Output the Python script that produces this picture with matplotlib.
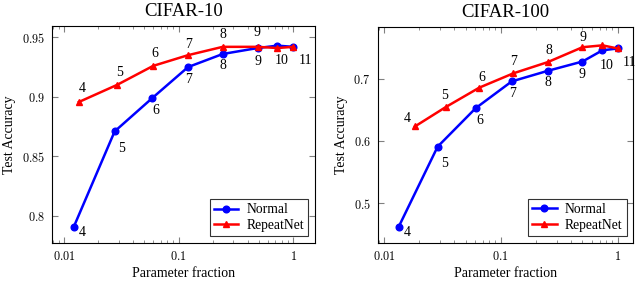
import matplotlib

matplotlib.use("Agg")

import matplotlib.pyplot as plt
from matplotlib.ticker import NullFormatter

# depth of each network (labels on the points)
depths = [4, 5, 6, 7, 8, 9, 10, 11]

# CIFAR-10
c10_normal_x = [0.0122, 0.0277, 0.059, 0.121, 0.243, 0.49, 0.73, 1.0]
c10_normal_y = [0.791, 0.871, 0.899, 0.925, 0.936, 0.941, 0.943, 0.942]
c10_repeat_x = [0.0135, 0.029, 0.06, 0.121, 0.243, 0.49, 0.73, 1.0]
c10_repeat_y = [0.8957, 0.910, 0.926, 0.935, 0.942, 0.942, 0.941, 0.942]

# CIFAR-100
c100_normal_x = [0.0134, 0.0288, 0.061, 0.124, 0.252, 0.5, 0.74, 1.0]
c100_normal_y = [0.4624, 0.591, 0.653, 0.696, 0.713, 0.728, 0.746, 0.749]
c100_repeat_x = [0.0184, 0.034, 0.0655, 0.128, 0.252, 0.5, 0.74, 1.0]
c100_repeat_y = [0.6235, 0.655, 0.686, 0.709, 0.727, 0.751, 0.754, 0.749]

c10_yticks = [0.8, 0.85, 0.9, 0.95]
c10_yticklabels = ["0.8", "0.85", "0.9", "0.95"]
c100_yticks = [0.5, 0.6, 0.7]
c100_yticklabels = ["0.5", "0.6", "0.7"]
xticks = [0.01, 0.1, 1]
xticklabels = ["0.01", "0.1", "1"]

plt.rcParams["font.family"] = ["Liberation Serif", "DejaVu Serif"]
plt.rcParams["mathtext.fontset"] = "cm"

# label offsets in pixels (pgfplots-like nodes near coords)
normal_off = [(8, -6), (7, -17), (4, -12), (1, -12), (0, -12), (0, -13), (4, -15), (12, -14)]
repeat_off_c10 = [(3, 13), (3, 12), (2, 12), (1, 11), (0, 12), (-1, 14)]
repeat_off_c100 = [(-8, 8), (-1, 11), (2, 10), (0, 12), (1, 12), (1, 10)]


def tex(labels):
    return ["$%s$" % s for s in labels]


def panel(ax, title, nx, ny, rx, ry, yticks, ylabels, xlim, ylim, roff):
    ax.plot(nx, ny, color="blue", lw=1.8, marker="o", ms=4.8, label="Normal", zorder=3)
    ax.plot(rx, ry, color="red", lw=1.8, marker="^", ms=5.0, label="RepeatNet", zorder=3)
    for i, d in enumerate(depths):
        ax.annotate(str(d), (nx[i], ny[i]), xytext=normal_off[i],
                    textcoords="offset pixels", ha="center", va="center", fontsize=10)
    for i, off in enumerate(roff):
        ax.annotate(str(depths[i]), (rx[i], ry[i]), xytext=off,
                    textcoords="offset pixels", ha="center", va="center", fontsize=10)
    ax.set_xscale("log")
    ax.set_xlim(*xlim)
    ax.set_ylim(*ylim)
    ax.set_xticks(xticks)
    ax.set_xticklabels(tex(xticklabels))
    ax.xaxis.set_minor_formatter(NullFormatter())
    ax.set_yticks(yticks)
    ax.set_yticklabels(tex(ylabels))
    ax.tick_params(which="both", direction="in", top=True, right=True,
                   labelsize=8.8, color="0.5")
    ax.tick_params(which="major", length=4, pad=5)
    ax.tick_params(which="minor", length=2.5)
    ax.set_title(title, fontsize=13.5, pad=7)
    ax.set_xlabel("Parameter fraction", fontsize=10, labelpad=3)
    ax.set_ylabel("Test Accuracy", fontsize=10, labelpad=4)
    leg = ax.legend(loc="lower right", fontsize=9.8, frameon=True, fancybox=False,
                    edgecolor="black", handlelength=1.8, borderaxespad=0.5,
                    borderpad=0.3, labelspacing=0.2, handletextpad=0.6)
    leg.get_frame().set_linewidth(0.8)
    for s in ax.spines.values():
        s.set_linewidth(0.8)


fig = plt.figure(figsize=(6.4, 2.81), dpi=100)
ax1 = fig.add_axes([0.0813, 0.1352, 0.4107, 0.7723])
ax2 = fig.add_axes([0.590, 0.1365, 0.3996, 0.7685])

panel(ax1, "CIFAR-10", c10_normal_x, c10_normal_y, c10_repeat_x, c10_repeat_y,
      c10_yticks, c10_yticklabels, (10 ** -2.104, 10 ** 0.19), (0.7773, 0.9595),
      repeat_off_c10)
panel(ax2, "CIFAR-100", c100_normal_x, c100_normal_y, c100_repeat_x, c100_repeat_y,
      c100_yticks, c100_yticklabels, (10 ** -2.054, 10 ** 0.134), (0.4367, 0.784),
      repeat_off_c100)

fig.savefig("out.png", dpi=100)
